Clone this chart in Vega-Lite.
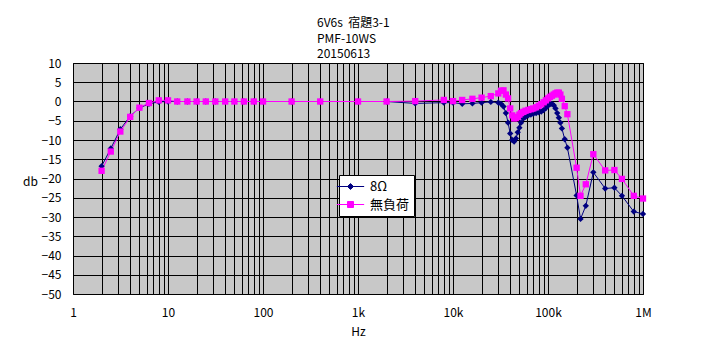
{
  "$schema": "https://vega.github.io/schema/vega-lite/v6.json",
  "autosize": {"type": "none"},
  "padding": {"left": 73, "top": 63, "right": 78, "bottom": 67},
  "width": 570,
  "height": 231,
  "background": "white",
  "title": {
    "text": ["6V6s\u00a0\u00a0宿題3-1", "PMF-10WS", "20150613"],
    "anchor": "start",
    "frame": "group",
    "dx": 244,
    "offset": -16,
    "baseline": "bottom",
    "fontSize": 12,
    "fontWeight": "normal",
    "font": "Noto Sans CJK JP",
    "lineHeight": 15.5,
    "color": "black"
  },
  "config": {
    "font": "Noto Sans CJK JP",
    "view": {"stroke": "black", "strokeWidth": 1, "fill": "#c8c8c8"}
  },
  "data": {
    "values": [
      {"f": 2, "db": -16.8, "s": "8Ω"},
      {"f": 2.5, "db": -12.2, "s": "8Ω"},
      {"f": 3.15, "db": -7.2, "s": "8Ω"},
      {"f": 4, "db": -3.8, "s": "8Ω"},
      {"f": 5, "db": -1.7, "s": "8Ω"},
      {"f": 6.3, "db": -0.6, "s": "8Ω"},
      {"f": 8, "db": -0.1, "s": "8Ω"},
      {"f": 10, "db": 0, "s": "8Ω"},
      {"f": 12.5, "db": 0, "s": "8Ω"},
      {"f": 16, "db": 0, "s": "8Ω"},
      {"f": 20, "db": 0, "s": "8Ω"},
      {"f": 25, "db": 0, "s": "8Ω"},
      {"f": 31.5, "db": 0, "s": "8Ω"},
      {"f": 40, "db": 0, "s": "8Ω"},
      {"f": 50, "db": 0, "s": "8Ω"},
      {"f": 63, "db": 0, "s": "8Ω"},
      {"f": 80, "db": 0, "s": "8Ω"},
      {"f": 100, "db": 0, "s": "8Ω"},
      {"f": 200, "db": 0, "s": "8Ω"},
      {"f": 400, "db": 0, "s": "8Ω"},
      {"f": 1000, "db": 0, "s": "8Ω"},
      {"f": 2000, "db": 0, "s": "8Ω"},
      {"f": 4000, "db": -0.5, "s": "8Ω"},
      {"f": 8000, "db": -0.3, "s": "8Ω"},
      {"f": 10000, "db": -0.3, "s": "8Ω"},
      {"f": 12500, "db": -0.6, "s": "8Ω"},
      {"f": 16000, "db": -0.5, "s": "8Ω"},
      {"f": 20000, "db": -0.3, "s": "8Ω"},
      {"f": 25000, "db": -0.1, "s": "8Ω"},
      {"f": 30000, "db": -0.3, "s": "8Ω"},
      {"f": 32000, "db": -0.6, "s": "8Ω"},
      {"f": 34000, "db": -1.3, "s": "8Ω"},
      {"f": 36000, "db": -3.0, "s": "8Ω"},
      {"f": 38000, "db": -5.5, "s": "8Ω"},
      {"f": 40000, "db": -8.3, "s": "8Ω"},
      {"f": 42000, "db": -10.0, "s": "8Ω"},
      {"f": 44000, "db": -10.4, "s": "8Ω"},
      {"f": 46000, "db": -9.6, "s": "8Ω"},
      {"f": 48000, "db": -8.0, "s": "8Ω"},
      {"f": 50000, "db": -6.8, "s": "8Ω"},
      {"f": 52000, "db": -5.5, "s": "8Ω"},
      {"f": 55000, "db": -4.4, "s": "8Ω"},
      {"f": 58000, "db": -4.0, "s": "8Ω"},
      {"f": 62000, "db": -3.6, "s": "8Ω"},
      {"f": 66000, "db": -3.4, "s": "8Ω"},
      {"f": 70000, "db": -3.2, "s": "8Ω"},
      {"f": 75000, "db": -3.0, "s": "8Ω"},
      {"f": 80000, "db": -2.8, "s": "8Ω"},
      {"f": 85000, "db": -2.6, "s": "8Ω"},
      {"f": 90000, "db": -2.2, "s": "8Ω"},
      {"f": 95000, "db": -1.7, "s": "8Ω"},
      {"f": 100000, "db": -1.1, "s": "8Ω"},
      {"f": 105000, "db": -0.7, "s": "8Ω"},
      {"f": 110000, "db": -0.6, "s": "8Ω"},
      {"f": 115000, "db": -1.0, "s": "8Ω"},
      {"f": 120000, "db": -1.8, "s": "8Ω"},
      {"f": 125000, "db": -3.0, "s": "8Ω"},
      {"f": 130000, "db": -4.2, "s": "8Ω"},
      {"f": 135000, "db": -5.5, "s": "8Ω"},
      {"f": 140000, "db": -7.0, "s": "8Ω"},
      {"f": 150000, "db": -9.8, "s": "8Ω"},
      {"f": 160000, "db": -12.0, "s": "8Ω"},
      {"f": 200000, "db": -24.4, "s": "8Ω"},
      {"f": 220000, "db": -30.5, "s": "8Ω"},
      {"f": 250000, "db": -27.1, "s": "8Ω"},
      {"f": 300000, "db": -18.4, "s": "8Ω"},
      {"f": 400000, "db": -22.6, "s": "8Ω"},
      {"f": 500000, "db": -22.4, "s": "8Ω"},
      {"f": 600000, "db": -24.5, "s": "8Ω"},
      {"f": 800000, "db": -28.6, "s": "8Ω"},
      {"f": 1000000, "db": -29.2, "s": "8Ω"},
      {"f": 2, "db": -18.0, "s": "無負荷"},
      {"f": 2.5, "db": -13.0, "s": "無負荷"},
      {"f": 3.15, "db": -7.8, "s": "無負荷"},
      {"f": 4, "db": -4.0, "s": "無負荷"},
      {"f": 5, "db": -1.6, "s": "無負荷"},
      {"f": 6.3, "db": -0.4, "s": "無負荷"},
      {"f": 8, "db": 0.3, "s": "無負荷"},
      {"f": 10, "db": 0.3, "s": "無負荷"},
      {"f": 12.5, "db": 0, "s": "無負荷"},
      {"f": 16, "db": 0, "s": "無負荷"},
      {"f": 20, "db": 0, "s": "無負荷"},
      {"f": 25, "db": 0, "s": "無負荷"},
      {"f": 31.5, "db": 0, "s": "無負荷"},
      {"f": 40, "db": 0, "s": "無負荷"},
      {"f": 50, "db": 0, "s": "無負荷"},
      {"f": 63, "db": 0, "s": "無負荷"},
      {"f": 80, "db": 0, "s": "無負荷"},
      {"f": 100, "db": 0, "s": "無負荷"},
      {"f": 200, "db": 0, "s": "無負荷"},
      {"f": 400, "db": 0, "s": "無負荷"},
      {"f": 1000, "db": 0, "s": "無負荷"},
      {"f": 2000, "db": 0, "s": "無負荷"},
      {"f": 4000, "db": 0.1, "s": "無負荷"},
      {"f": 8000, "db": 0.4, "s": "無負荷"},
      {"f": 10000, "db": 0.1, "s": "無負荷"},
      {"f": 12500, "db": 0.4, "s": "無負荷"},
      {"f": 16000, "db": 0.7, "s": "無負荷"},
      {"f": 20000, "db": 1.0, "s": "無負荷"},
      {"f": 25000, "db": 1.4, "s": "無負荷"},
      {"f": 30000, "db": 2.1, "s": "無負荷"},
      {"f": 32000, "db": 2.8, "s": "無負荷"},
      {"f": 34000, "db": 2.9, "s": "無負荷"},
      {"f": 36000, "db": 1.8, "s": "無負荷"},
      {"f": 38000, "db": 0.8, "s": "無負荷"},
      {"f": 40000, "db": -1.8, "s": "無負荷"},
      {"f": 42000, "db": -3.6, "s": "無負荷"},
      {"f": 44000, "db": -4.4, "s": "無負荷"},
      {"f": 46000, "db": -4.3, "s": "無負荷"},
      {"f": 48000, "db": -4.0, "s": "無負荷"},
      {"f": 50000, "db": -3.4, "s": "無負荷"},
      {"f": 52000, "db": -3.0, "s": "無負荷"},
      {"f": 55000, "db": -2.7, "s": "無負荷"},
      {"f": 58000, "db": -2.4, "s": "無負荷"},
      {"f": 62000, "db": -2.2, "s": "無負荷"},
      {"f": 66000, "db": -2.0, "s": "無負荷"},
      {"f": 70000, "db": -1.8, "s": "無負荷"},
      {"f": 75000, "db": -1.5, "s": "無負荷"},
      {"f": 80000, "db": -1.1, "s": "無負荷"},
      {"f": 85000, "db": -0.7, "s": "無負荷"},
      {"f": 90000, "db": -0.2, "s": "無負荷"},
      {"f": 95000, "db": 0.3, "s": "無負荷"},
      {"f": 100000, "db": 0.8, "s": "無負荷"},
      {"f": 105000, "db": 1.2, "s": "無負荷"},
      {"f": 110000, "db": 1.5, "s": "無負荷"},
      {"f": 115000, "db": 1.8, "s": "無負荷"},
      {"f": 120000, "db": 2.1, "s": "無負荷"},
      {"f": 125000, "db": 2.3, "s": "無負荷"},
      {"f": 130000, "db": 2.3, "s": "無負荷"},
      {"f": 135000, "db": 1.8, "s": "無負荷"},
      {"f": 140000, "db": 0.7, "s": "無負荷"},
      {"f": 150000, "db": -1.2, "s": "無負荷"},
      {"f": 160000, "db": -3.3, "s": "無負荷"},
      {"f": 200000, "db": -17.2, "s": "無負荷"},
      {"f": 220000, "db": -24.5, "s": "無負荷"},
      {"f": 250000, "db": -21.5, "s": "無負荷"},
      {"f": 300000, "db": -13.7, "s": "無負荷"},
      {"f": 400000, "db": -17.9, "s": "無負荷"},
      {"f": 500000, "db": -17.8, "s": "無負荷"},
      {"f": 600000, "db": -20.1, "s": "無負荷"},
      {"f": 800000, "db": -24.5, "s": "無負荷"},
      {"f": 1000000, "db": -25.2, "s": "無負荷"}
    ]
  },
  "encoding": {
    "x": {
      "field": "f",
      "type": "quantitative",
      "scale": {"type": "log", "domain": [1, 1000000], "nice": false},
      "axis": {
        "values": [1,2,3,4,5,6,7,8,9,10,20,30,40,50,60,70,80,90,100,200,300,400,500,600,700,800,900,1000,2000,3000,4000,5000,6000,7000,8000,9000,10000,20000,30000,40000,50000,60000,70000,80000,90000,100000,200000,300000,400000,500000,600000,700000,800000,900000,1000000],
        "labelExpr": "datum.value == 1 ? '1' : datum.value == 10 ? '10' : datum.value == 100 ? '100' : datum.value == 1000 ? '1k' : datum.value == 10000 ? '10k' : datum.value == 100000 ? '100k' : datum.value == 1000000 ? '1M' : ''",
        "grid": true,
        "gridColor": "black",
        "gridOpacity": 1,
        "gridWidth": 1,
        "ticks": false,
        "domain": false,
        "labelFontSize": 12,
        "labelColor": "black",
        "labelPadding": 13,
        "labelFlush": false,
        "labelOverlap": false,
        "labelBound": false,
        "title": "Hz",
        "titleFontSize": 12,
        "titleFontWeight": "normal",
        "titleColor": "black",
        "titleBaseline": "middle",
        "titleY": 37
      }
    },
    "y": {
      "field": "db",
      "type": "quantitative",
      "scale": {"domain": [-50, 10], "nice": false, "zero": false},
      "axis": {
        "values": [-50,-45,-40,-35,-30,-25,-20,-15,-10,-5,0,5,10],
        "grid": true,
        "gridColor": "black",
        "gridOpacity": 1,
        "gridWidth": 1,
        "ticks": false,
        "domain": false,
        "labelFontSize": 12,
        "labelColor": "black",
        "labelPadding": 12,
        "labelOverlap": false,
        "labelFlush": false,
        "title": "db",
        "titleAngle": 0,
        "titleX": -43,
        "titleY": 118,
        "titleAlign": "center",
        "titleBaseline": "middle",
        "titleFontSize": 12,
        "titleFontWeight": "normal",
        "titleColor": "black"
      }
    }
  },
  "layer": [
    {
      "mark": {"type": "line", "strokeWidth": 1},
      "encoding": {
        "color": {
          "field": "s",
          "type": "nominal",
          "scale": {"domain": ["8Ω", "無負荷"], "range": ["#000080", "#ff00ff"]},
          "legend": {
            "title": null,
            "orient": "none",
            "legendX": 266,
            "legendY": 112,
            "fillColor": "white",
            "strokeColor": "black",
            "padding": 4,
            "symbolSize": 196,
            "symbolStrokeWidth": 1,
            "labelFontSize": 13,
            "labelColor": "black",
            "labelOffset": 12,
            "rowPadding": 3,
            "encode": {
              "symbols": {
                "update": {
                  "shape": {"signal": "datum.value === '8Ω' ? 'M-1.95,0L1.95,0M0,-0.42L0.42,0L0,0.42L-0.42,0Z' : 'M-1.95,0L1.95,0M-0.43,-0.43L0.43,-0.43L0.43,0.43L-0.43,0.43Z'"},
                  "fill": {"signal": "datum.value === '8Ω' ? '#000080' : '#ff00ff'"}
                }
              }
            }
          }
        }
      }
    },
    {
      "transform": [{"filter": "datum.s === '8Ω'"}],
      "mark": {"type": "point", "filled": true, "size": 40, "opacity": 1, "shape": "diamond", "color": "#000080"}
    },
    {
      "transform": [{"filter": "datum.s === '無負荷'"}],
      "mark": {"type": "point", "filled": true, "size": 40, "opacity": 1, "shape": "square", "color": "#ff00ff"}
    }
  ]
}
